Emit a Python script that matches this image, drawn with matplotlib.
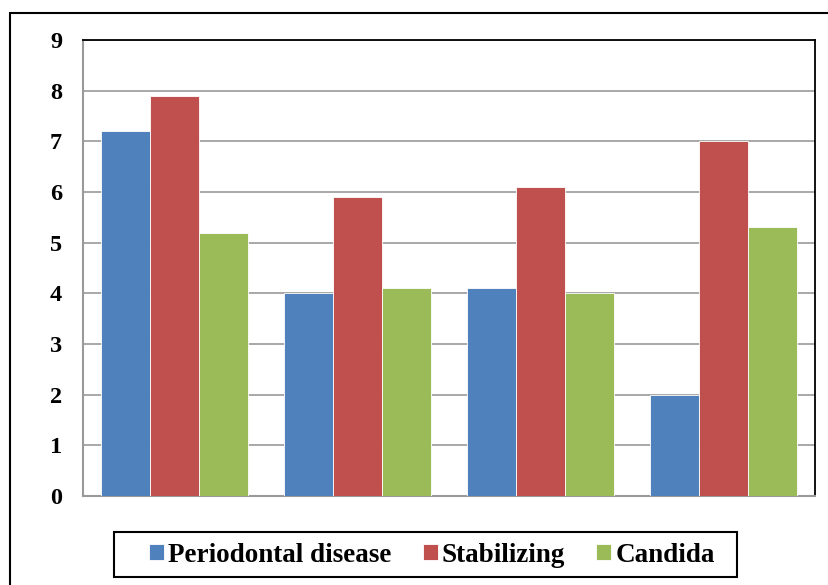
import matplotlib
matplotlib.use("Agg")
import matplotlib.pyplot as plt
import numpy as np
from matplotlib.patches import Rectangle

series = ["Periodontal disease", "Stabilizing", "Candida"]
colors = ["#4f81bd", "#c0504d", "#9bbb59"]
periodontal = [7.2, 4.0, 4.1, 2.0]
stabilizing = [7.9, 5.9, 6.1, 7.0]
candida = [5.2, 4.1, 4.0, 5.3]
values = [periodontal, stabilizing, candida]

plt.rcParams["font.family"] = ["Liberation Serif", "DejaVu Serif"]
plt.rcParams["font.weight"] = "bold"

fig = plt.figure(figsize=(8.29, 5.85), dpi=100)
ax = fig.add_axes([83/829, 1 - 496/585, (815-83)/829, (496-40)/585])

# outer chart border
fig.patches.append(Rectangle((10/829, -0.05), 1.0, 1 - 13/585 + 0.05, transform=fig.transFigure,
                             fill=False, edgecolor="black", linewidth=1.5))
# legend border
fig.patches.append(Rectangle((114/829, 1 - 577/585), (737-114)/829, 45/585, transform=fig.transFigure,
                             fill=False, edgecolor="black", linewidth=1.5))

x = np.arange(4)
w = 0.267
for i, (name, vals) in enumerate(zip(series, values)):
    ax.bar(x + (i - 1) * w, vals, w, color=colors[i], edgecolor="white", linewidth=0.6,
           label=name, zorder=3)

ax.set_xlim(-0.5, 3.5)
ax.set_ylim(0, 9)
ax.set_yticks(range(10))
ax.set_xticks([])
ax.tick_params(axis="y", length=0, pad=15, labelsize=17.5)
for lbl in ax.get_yticklabels():
    lbl.set_fontweight("bold")
ax.grid(axis="y", color="#9a9a9a", linewidth=1.2, zorder=0)
ax.spines["left"].set_color("#999999")
ax.spines["bottom"].set_color("#999999")
ax.spines["left"].set_linewidth(1.5)
ax.spines["bottom"].set_linewidth(1.5)
ax.spines["top"].set_color("black")
ax.spines["right"].set_color("black")
ax.spines["top"].set_linewidth(1.3)
ax.spines["right"].set_linewidth(1.3)

leg = fig.legend(loc="center", bbox_to_anchor=(432/829, 1 - 555/585), ncol=3,
                 frameon=False,
                 prop={"family": "Liberation Serif", "weight": "bold", "size": 19.5},
                 handlelength=0.55, handleheight=0.55, handletextpad=0.15, columnspacing=1.15,
                 borderpad=0.35)

fig.savefig("out.png", dpi=100)
